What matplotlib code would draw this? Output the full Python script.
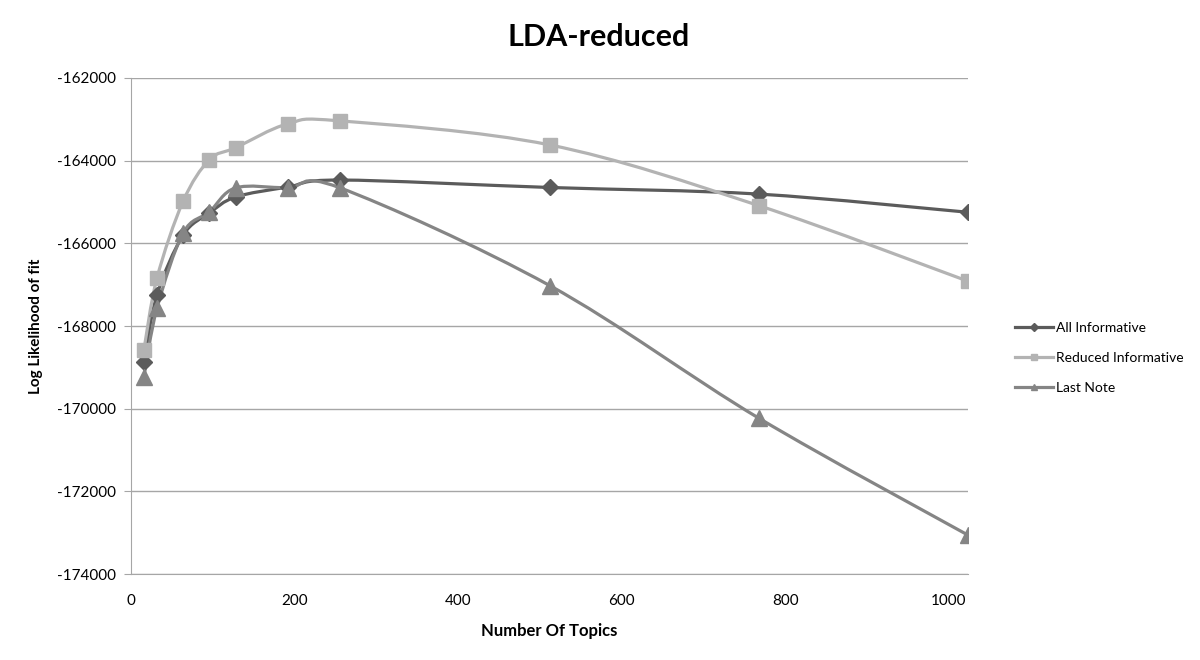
import numpy as np
import matplotlib
matplotlib.use("Agg")
from matplotlib import pyplot as plt
from matplotlib.path import Path
from matplotlib.patches import PathPatch
from matplotlib.lines import Line2D

# number of topics
topics = [16, 32, 64, 96, 128, 192, 256, 512, 768, 1024]

# log likelihood of fit
all_informative = [-168870, -167250, -165800, -165270, -164880, -164640, -164470, -164650, -164810, -165250]
reduced_informative = [-168580, -166840, -164980, -163980, -163690, -163110, -163040, -163620, -165090, -166920]
last_note = [-169230, -167570, -165750, -165240, -164660, -164660, -164660, -167020, -170230, -173060]

series_names = ["All Informative", "Reduced Informative", "Last Note"]
series_colors = ["#5b5b5b", "#b3b3b3", "#858585"]
series_markers = ["D", "s", "^"]
series_ms = [8, 10, 11]

plt.rcParams['font.family'] = ['Lato', 'DejaVu Sans']
plt.rcParams['axes.unicode_minus'] = False


def smooth_path(xs, ys):
    # excel-like smoothed line: bezier segments with catmull-rom control points
    pts = np.column_stack([xs, ys]).astype(float)
    n = len(pts)
    verts = [pts[0]]
    codes = [Path.MOVETO]
    for i in range(n - 1):
        p0 = pts[i - 1] if i > 0 else pts[i]
        p1 = pts[i]
        p2 = pts[i + 1]
        p3 = pts[i + 2] if i + 2 < n else pts[i + 1]
        c1 = p1 + (p2 - p0) / 6.0
        c2 = p2 - (p3 - p1) / 6.0
        verts += [c1, c2, p2]
        codes += [Path.CURVE4] * 3
    return Path(verts, codes)


fig = plt.figure(figsize=(12, 6.6), dpi=100)
ax = fig.add_axes([0.109, 0.130, 0.698, 0.752])

all_series = [all_informative, reduced_informative, last_note]
handles = []
for vals, name, col, mk, ms in zip(all_series, series_names, series_colors, series_markers, series_ms):
    patch = PathPatch(smooth_path(topics, vals), facecolor='none', edgecolor=col, lw=2.3, zorder=3)
    ax.add_patch(patch)
    ax.plot(topics, vals, linestyle='none', marker=mk, ms=ms, color=col, zorder=4)
    handles.append(Line2D([], [], color=col, lw=2.3, marker=mk, ms=4.5))

ax.set_xlim(0, 1024)
ax.set_ylim(-174000, -162000)
ax.set_xticks([0, 200, 400, 600, 800, 1000])
ax.set_yticks(np.arange(-174000, -161999, 2000))
ax.yaxis.grid(True, color='#a6a6a6', lw=1)
ax.set_axisbelow(True)

for s in ['top', 'right']:
    ax.spines[s].set_visible(False)
for s in ['left', 'bottom']:
    ax.spines[s].set_color('#a6a6a6')
ax.tick_params(axis='y', length=5, color='#a6a6a6', labelsize=11, pad=6)
ax.tick_params(axis='x', length=0, labelsize=11, pad=14)

ax.set_xlabel("Number Of Topics", fontsize=12, fontweight='bold', labelpad=11)
ax.set_ylabel("Log Likelihood of fit", fontsize=11, fontweight='bold', labelpad=10)
fig.text(0.499, 0.944, "LDA-reduced", ha='center', va='center', fontsize=22, fontweight='bold')

fig.legend(handles, series_names, loc='center left', bbox_to_anchor=(0.835, 0.458), frameon=False,
           fontsize=10, handlelength=2.8, handletextpad=0.2, labelspacing=1.3)

fig.savefig("out.png", dpi=100)
